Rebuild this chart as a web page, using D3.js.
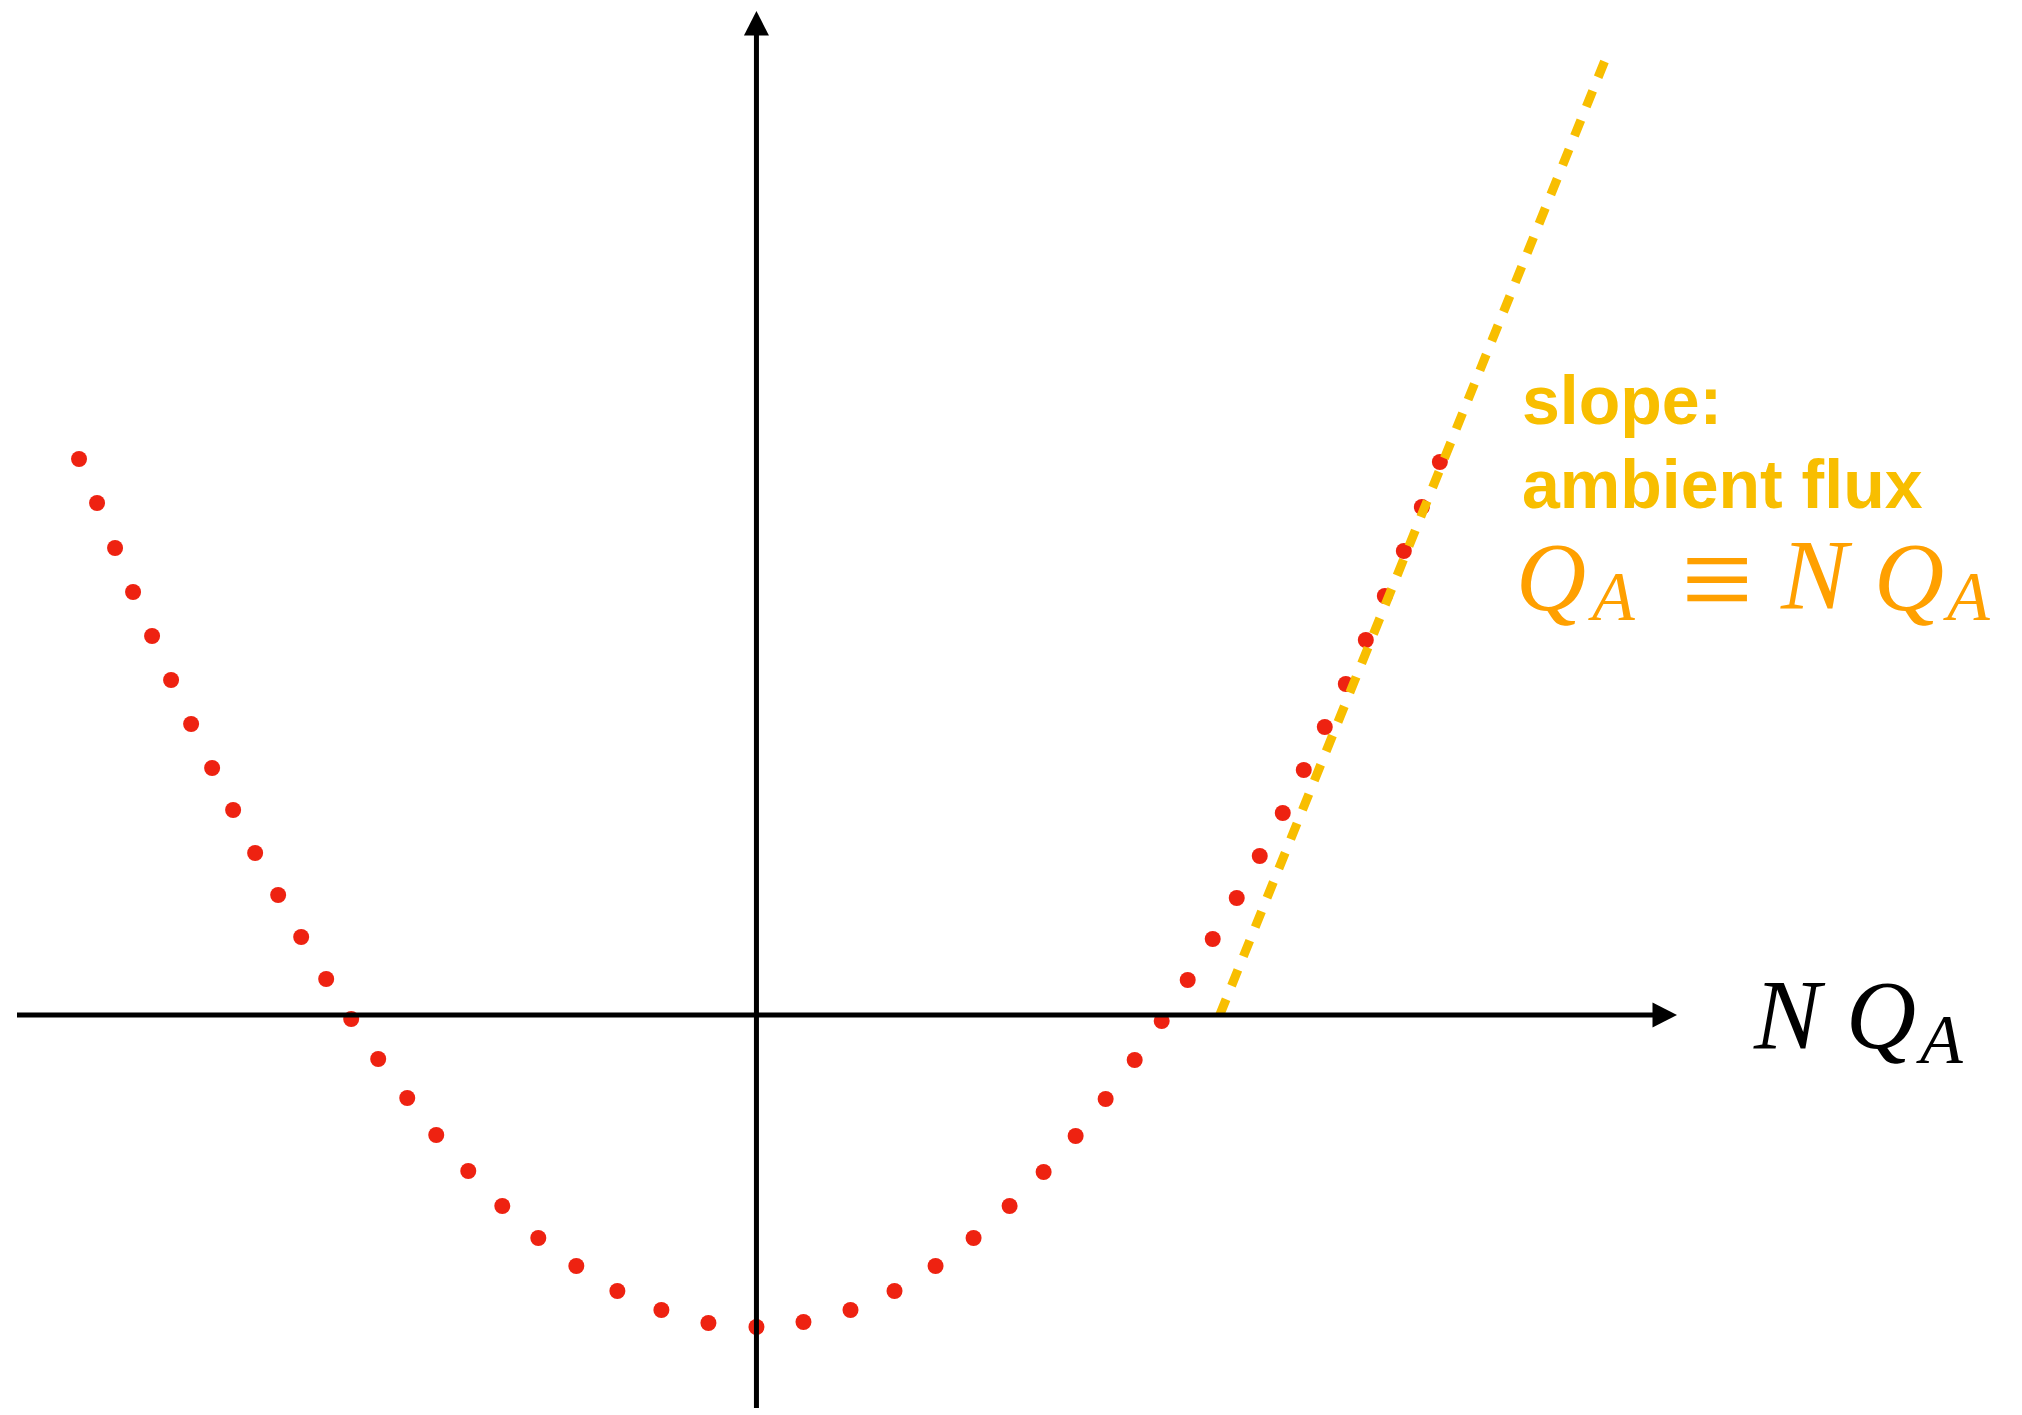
<!DOCTYPE html>
<html>
<head>
<meta charset="utf-8">
<script src="https://cdn.jsdelivr.net/npm/d3@7"></script>
<style>
  html, body { margin: 0; padding: 0; background: #ffffff; }
  svg { display: block; }
</style>
</head>
<body>
<svg id="chart" width="2022" height="1415"></svg>
<script>
// Sampled total charge vs. N·Q_A (arbitrary units, origin at the axis crossing)
const sampleX = [
  -6.77, -6.59, -6.41, -6.23, -6.04, -5.85, -5.65, -5.44, -5.23, -5.01,
  -4.78, -4.55, -4.30, -4.05, -3.78, -3.49, -3.20, -2.88, -2.54, -2.18,
  -1.80, -1.39, -0.95, -0.48, 0.00, 0.47, 0.94, 1.38, 1.79, 2.17,
  2.53, 2.87, 3.19, 3.49, 3.78, 4.05, 4.31, 4.56, 4.80, 5.03,
  5.26, 5.47, 5.68, 5.89, 6.09, 6.28, 6.47, 6.65, 6.83
];
const sampleY = [
  5.56, 5.12, 4.67, 4.23, 3.79, 3.35, 2.91, 2.47, 2.05, 1.62,
  1.20, 0.78, 0.36, -0.04, -0.44, -0.83, -1.20, -1.56, -1.91, -2.23,
  -2.51, -2.76, -2.95, -3.08, -3.12, -3.07, -2.95, -2.76, -2.51, -2.23,
  -1.91, -1.57, -1.21, -0.84, -0.45, -0.06, 0.35, 0.76, 1.17, 1.59,
  2.02, 2.45, 2.88, 3.31, 3.75, 4.19, 4.64, 5.08, 5.53
];

// Asymptote whose slope is the ambient flux
const asymptoteX = [4.63, 8.53];
const asymptoteY = [0.00, 9.67];

// Axis extents
const xDomain = [-7.39, 9.20];
const yDomain = [-3.93, 10.04];

const axisLabel = ["N", "Q", "A"];
const noteLines = ["slope:", "ambient flux"];
const noteMath = ["Q", "A", "\u2261", "N", "Q", "A"];

const svg = d3.select("#chart");
svg.append("rect").attr("width", 2022).attr("height", 1415).attr("fill", "#ffffff");

const x = d3.scaleLinear().domain(xDomain).range([17, 1677]);
const y = d3.scaleLinear().domain(yDomain).range([1408, 11]);

const points = sampleX.map((v, i) => ({ x: v, y: sampleY[i] }));
const red = "#ee2211";
const gold = "#f8be00";
const orange = "#ffa000";

// Dotted curve of samples
svg.append("g")
  .selectAll("circle")
  .data(points)
  .join("circle")
  .attr("cx", d => x(d.x))
  .attr("cy", d => y(d.y))
  .attr("r", 8)
  .attr("fill", red);

// Dashed asymptote
const asym = asymptoteX.map((v, i) => [v, asymptoteY[i]]);
svg.append("path")
  .datum(asym)
  .attr("d", d3.line().x(d => x(d[0])).y(d => y(d[1])))
  .attr("fill", "none")
  .attr("stroke", gold)
  .attr("stroke-width", 9)
  .attr("stroke-dasharray", "17 14.6");

// Axes with arrowheads
const axes = svg.append("g");
const x0 = x(0), y0 = y(0);
const head = 24.5, half = 12.5;
axes.append("line")
  .attr("x1", x(xDomain[0])).attr("x2", x(xDomain[1]) - head + 1)
  .attr("y1", y0).attr("y2", y0)
  .attr("stroke", "#000").attr("stroke-width", 5);
axes.append("path")
  .attr("d", `M${x(xDomain[1])},${y0} L${x(xDomain[1]) - head},${y0 - half} L${x(xDomain[1]) - head},${y0 + half} Z`)
  .attr("fill", "#000");
axes.append("line")
  .attr("x1", x0).attr("x2", x0)
  .attr("y1", y(yDomain[0])).attr("y2", y(yDomain[1]) + head - 1)
  .attr("stroke", "#000").attr("stroke-width", 5);
axes.append("path")
  .attr("d", `M${x0},${y(yDomain[1])} L${x0 - half},${y(yDomain[1]) + head} L${x0 + half},${y(yDomain[1]) + head} Z`)
  .attr("fill", "#000");

// Horizontal axis label  N Q_A
const lab = svg.append("text")
  .attr("font-family", "'Liberation Serif', 'DejaVu Serif', serif")
  .attr("font-style", "italic")
  .attr("fill", "#000");
lab.append("tspan").attr("x", 1754).attr("y", 1048).attr("font-size", 100).text(axisLabel[0]);
lab.append("tspan").attr("x", 1846).attr("y", 1048).attr("font-size", 97).text(axisLabel[1]);
lab.append("tspan").attr("x", 1920).attr("y", 1063).attr("font-size", 70).text(axisLabel[2]);

// Annotation: two text lines in bold sans, then the relation in math italics
const noteBase = [424, 508];
noteLines.forEach((t, i) => {
  svg.append("text")
    .attr("font-family", "'Liberation Sans', Arial, sans-serif")
    .attr("font-weight", "bold")
    .attr("font-size", 68)
    .attr("fill", gold)
    .attr("x", 1522).attr("y", noteBase[i])
    .text(t);
});

const math = svg.append("text")
  .attr("font-family", "'Liberation Serif', 'DejaVu Serif', serif")
  .attr("fill", orange);
math.append("tspan").attr("x", 1516).attr("y", 610).attr("font-size", 97).attr("font-style", "italic").text(noteMath[0]);
math.append("tspan").attr("x", 1592).attr("y", 620).attr("font-size", 70).attr("font-style", "italic").text(noteMath[1]);
math.append("tspan").attr("x", 1717).attr("y", 622).attr("font-size", 128).attr("text-anchor", "middle").text(noteMath[2]);
math.append("tspan").attr("x", 1781).attr("y", 608).attr("font-size", 100).attr("font-style", "italic").text(noteMath[3]);
math.append("tspan").attr("x", 1874).attr("y", 610).attr("font-size", 97).attr("font-style", "italic").text(noteMath[4]);
math.append("tspan").attr("x", 1947).attr("y", 620).attr("font-size", 70).attr("font-style", "italic").text(noteMath[5]);
</script>
</body>
</html>
